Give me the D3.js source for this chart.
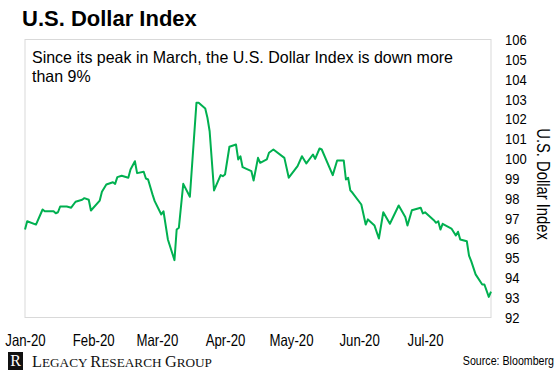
<!DOCTYPE html>
<html>
<head>
<meta charset="utf-8">
<script src="https://cdn.jsdelivr.net/npm/d3@7"></script>
<style>
  body { margin: 0; background: #fff; }
  svg { display: block; }
  .sans { font-family: "Liberation Sans", Arial, sans-serif; }
</style>
</head>
<body>
<svg id="chart"></svg>
<script>
// values (DXY, 2020)
const dates = [
  "2020-01-01","2020-01-02","2020-01-06","2020-01-09","2020-01-10","2020-01-14","2020-01-15","2020-01-16",
  "2020-01-17","2020-01-20","2020-01-22","2020-01-24","2020-01-27","2020-01-28","2020-01-30","2020-01-31",
  "2020-02-04","2020-02-05","2020-02-07","2020-02-10","2020-02-11","2020-02-12","2020-02-14","2020-02-17",
  "2020-02-18","2020-02-20","2020-02-21","2020-02-24","2020-02-25","2020-02-26","2020-02-28","2020-02-29",
  "2020-03-03","2020-03-04","2020-03-06","2020-03-09","2020-03-10","2020-03-11","2020-03-13","2020-03-16",
  "2020-03-19","2020-03-20","2020-03-23","2020-03-24","2020-03-25","2020-03-27","2020-03-30","2020-03-31",
  "2020-04-01","2020-04-03","2020-04-06","2020-04-07","2020-04-08","2020-04-09","2020-04-13","2020-04-14",
  "2020-04-16","2020-04-17","2020-04-20","2020-04-21","2020-04-23","2020-04-28","2020-04-30","2020-05-04",
  "2020-05-06","2020-05-08","2020-05-11","2020-05-12","2020-05-14","2020-05-15","2020-05-20","2020-05-22",
  "2020-05-25","2020-05-26","2020-05-27","2020-05-28","2020-05-29","2020-06-02","2020-06-04","2020-06-05",
  "2020-06-08","2020-06-10","2020-06-12","2020-06-15","2020-06-19","2020-06-22","2020-06-23","2020-06-25",
  "2020-06-29","2020-06-30","2020-07-01","2020-07-05","2020-07-06","2020-07-07","2020-07-08","2020-07-09",
  "2020-07-13","2020-07-15","2020-07-16","2020-07-17","2020-07-20","2020-07-21","2020-07-22","2020-07-24",
  "2020-07-27","2020-07-28","2020-07-30","2020-07-31"
];
const values = [
  96.43, 96.85, 96.68, 97.44, 97.35, 97.35, 97.25, 97.30,
  97.59, 97.59, 97.53, 97.83, 97.93, 98.01, 97.93, 97.39,
  97.89, 98.33, 98.70, 98.81, 98.73, 99.07, 99.14, 99.04,
  99.45, 99.87, 99.27, 99.34, 99.00, 98.95, 98.20, 97.86,
  97.19, 97.35, 95.93, 94.89, 96.43, 96.52, 98.73, 98.08,
  102.81, 102.81, 102.53, 102.06, 101.38, 98.40, 99.17, 99.12,
  99.20, 100.60, 100.71, 99.96, 100.12, 99.57, 99.37, 98.90,
  100.04, 99.79, 99.96, 100.30, 100.46, 100.04, 99.04, 99.62,
  100.12, 99.76, 100.21, 99.99, 100.51, 100.46, 99.17, 99.91,
  99.91, 98.95, 99.04, 98.40, 98.28, 97.69, 96.68, 96.94,
  96.63, 95.98, 97.30, 96.72, 97.64, 97.06, 96.63, 97.40,
  97.53, 97.24, 97.30, 96.90, 96.77, 96.85, 96.43, 96.72,
  96.48, 96.13, 96.32, 95.93, 95.84, 95.12, 94.84, 94.17,
  93.66, 93.66, 93.04, 93.30
];
const yTicks = [92, 93, 94, 95, 96, 97, 98, 99, 100, 101, 102, 103, 104, 105, 106];
const monthTicks = ["2020-01-01","2020-02-01","2020-03-01","2020-04-01","2020-05-01","2020-06-01","2020-07-01"];
const monthLabels = ["Jan-20","Feb-20","Mar-20","Apr-20","May-20","Jun-20","Jul-20"];

// no narrow font installed: squeeze regular sans to look like Arial Narrow
function narrow(sel, k = 0.82) {
  sel.each(function() {
    const w = this.getComputedTextLength();
    d3.select(this)
      .attr('textLength', w * k)
      .attr('lengthAdjust', 'spacingAndGlyphs');
  });
}

class DollarChart {
  constructor(_config) {
    this.config = {
      parentElement: _config.parentElement,
      containerWidth: _config.containerWidth || 560,
      containerHeight: _config.containerHeight || 379,
    };
    this.initVis();
  }

  initVis() {
    let vis = this;
    const parse = d3.timeParse("%Y-%m-%d");

    vis.svg = d3.select(vis.config.parentElement)
      .attr('width', vis.config.containerWidth)
      .attr('height', vis.config.containerHeight);

    vis.data = dates.map((d, i) => ({date: parse(d), value: values[i]}));

    vis.x = d3.scaleTime()
      .domain([parse("2020-01-01"), parse("2020-07-31")])
      .range([25, 491]);
    vis.y = d3.scaleLinear()
      .domain([92, 106])
      .range([317.5, 39.5]);

    // title
    vis.svg.append('text')
      .attr('class', 'sans')
      .attr('x', 22).attr('y', 26)
      .style('font-weight', 'bold')
      .style('font-size', '22px')
      .attr('fill', '#000')
      .text('U.S. Dollar Index');

    // plot box
    vis.svg.append('rect')
      .attr('x', vis.x.range()[0]).attr('y', vis.y(106))
      .attr('width', vis.x.range()[1] - vis.x.range()[0])
      .attr('height', vis.y(92) - vis.y(106))
      .attr('fill', 'none')
      .attr('stroke', '#d9d9d9')
      .attr('stroke-width', 1);

    // note inside the box, first line runs to about x=453
    const noteLines = ['Since its peak in March, the U.S. Dollar Index is down more', 'than 9%'];
    const note = vis.svg.selectAll('.note')
      .data(noteLines)
      .join('text')
      .attr('class', 'note sans')
      .attr('x', 32)
      .attr('y', (d, i) => 63 + i * 18.5)
      .style('font-size', '16.5px')
      .attr('fill', '#000')
      .text(d => d);
    const k = 421 / note.node().getComputedTextLength();
    note.call(narrow, k);

    vis.update();
  }

  update() {
    let vis = this;

    const line = d3.line()
      .x(d => vis.x(d.date))
      .y(d => vis.y(d.value));

    vis.svg.append('path')
      .datum(vis.data)
      .attr('fill', 'none')
      .attr('stroke', '#00b050')
      .attr('stroke-width', 2)
      .attr('stroke-linejoin', 'round')
      .attr('d', line);

    // right axis labels, no line
    const yAxis = d3.axisRight(vis.y).tickValues(yTicks).tickSize(0).tickPadding(0);
    const yg = vis.svg.append('g')
      .attr('transform', 'translate(505,0)')
      .call(yAxis);
    yg.select('.domain').remove();
    yg.selectAll('text')
      .attr('class', 'sans')
      .style('font-size', '15.5px')
      .attr('fill', '#000')
      .call(narrow, 0.84);

    vis.svg.append('text')
      .attr('class', 'sans')
      .attr('transform', 'translate(537,184) rotate(90)')
      .attr('text-anchor', 'middle')
      .style('font-size', '18px')
      .attr('fill', '#000')
      .text('U.S. Dollar Index')
      .call(narrow);

    // month labels along the bottom
    const parse = d3.timeParse("%Y-%m-%d");
    const xAxis = d3.axisBottom(vis.x)
      .tickValues(monthTicks.map(parse))
      .tickFormat((d, i) => monthLabels[i])
      .tickSize(0).tickPadding(0);
    const xg = vis.svg.append('g')
      .attr('transform', 'translate(0,334)')
      .call(xAxis);
    xg.select('.domain').remove();
    xg.selectAll('text')
      .attr('class', 'sans')
      .style('font-size', '16.5px')
      .attr('fill', '#000')
      .call(narrow, 0.8);

    vis.render();
  }

  render() {
    let vis = this;

    // logo
    vis.svg.append('rect')
      .attr('x', 8).attr('y', 352)
      .attr('width', 15).attr('height', 18)
      .attr('fill', '#111');
    vis.svg.append('text')
      .attr('x', 15.5).attr('y', 366)
      .attr('text-anchor', 'middle')
      .style('font-family', '"Liberation Serif", "Times New Roman", serif')
      .style('font-size', '16px')
      .attr('fill', '#fff')
      .text('R');

    const logo = vis.svg.append('text')
      .attr('x', 32).attr('y', 367)
      .style('font-family', '"Liberation Serif", "Times New Roman", serif')
      .attr('fill', '#111')
      .attr('textLength', 180)
      .attr('lengthAdjust', 'spacingAndGlyphs');
    [["L", 16], ["EGACY ", 13], ["R", 16], ["ESEARCH ", 13], ["G", 16], ["ROUP", 13]].forEach(p => {
      logo.append('tspan').style('font-size', p[1] + 'px').text(p[0]);
    });

    // squeezed with a transform so its box stays inside the page
    vis.svg.append('text')
      .attr('class', 'sans')
      .attr('transform', 'translate(554,365) scale(0.82,1)')
      .attr('text-anchor', 'end')
      .style('font-size', '13px')
      .attr('fill', '#000')
      .text('Source: Bloomberg');
  }
}

new DollarChart({ parentElement: '#chart' });
</script>
</body>
</html>
